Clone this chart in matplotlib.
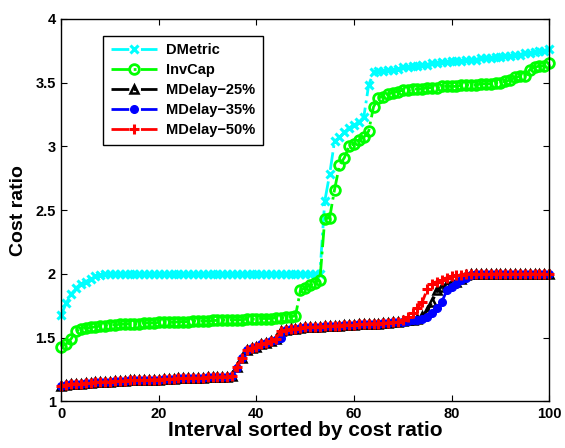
import matplotlib
matplotlib.use("Agg")
import matplotlib.pyplot as plt
import numpy as np

plt.rcParams['font.family'] = ['Liberation Sans', 'DejaVu Sans']
plt.rcParams['font.weight'] = 'bold'

intervals = list(range(0, 101))

dmetric = [
    1.68, 1.77, 1.84, 1.89, 1.92, 1.94, 1.96, 1.98, 1.99, 2.00,
    2.00, 2.00, 2.00, 2.00, 2.00, 2.00, 2.00, 2.00, 2.00, 2.00,
    2.00, 2.00, 2.00, 2.00, 2.00, 2.00, 2.00, 2.00, 2.00, 2.00,
    2.00, 2.00, 2.00, 2.00, 2.00, 2.00, 2.00, 2.00, 2.00, 2.00,
    2.00, 2.00, 2.00, 2.00, 2.00, 2.00, 2.00, 2.00, 2.00, 2.00,
    2.00, 2.00, 2.00, 2.00, 2.57, 2.78, 3.04, 3.07, 3.11, 3.14,
    3.17, 3.19, 3.23, 3.48, 3.58, 3.59, 3.59, 3.60, 3.60, 3.61,
    3.62, 3.62, 3.63, 3.63, 3.64, 3.64, 3.65, 3.65, 3.66, 3.66,
    3.67, 3.67, 3.67, 3.68, 3.68, 3.68, 3.69, 3.69, 3.69, 3.70,
    3.70, 3.71, 3.71, 3.72, 3.72, 3.73, 3.73, 3.74, 3.75, 3.75,
    3.76,
]

invcap = [
    1.43, 1.45, 1.49, 1.55, 1.57, 1.575, 1.58, 1.585, 1.59, 1.595,
    1.60, 1.60, 1.605, 1.605, 1.61, 1.61, 1.61, 1.615, 1.615, 1.615,
    1.62, 1.62, 1.62, 1.62, 1.625, 1.625, 1.625, 1.63, 1.63, 1.63,
    1.63, 1.635, 1.635, 1.635, 1.64, 1.64, 1.64, 1.64, 1.645, 1.645,
    1.645, 1.65, 1.65, 1.65, 1.655, 1.655, 1.66, 1.665, 1.67, 1.87,
    1.89, 1.91, 1.93, 1.95, 2.43, 2.44, 2.66, 2.85, 2.91, 3.00,
    3.02, 3.05, 3.07, 3.12, 3.31, 3.38, 3.39, 3.41, 3.42, 3.43,
    3.44, 3.44, 3.45, 3.45, 3.45, 3.46, 3.46, 3.46, 3.47, 3.47,
    3.47, 3.47, 3.48, 3.48, 3.48, 3.48, 3.49, 3.49, 3.49, 3.50,
    3.50, 3.51, 3.52, 3.54, 3.55, 3.55, 3.60, 3.62, 3.63, 3.63,
    3.65,
]

mdelay25 = [
    1.12, 1.13, 1.135, 1.14, 1.14, 1.145, 1.145, 1.15, 1.15, 1.155,
    1.155, 1.16, 1.16, 1.16, 1.165, 1.165, 1.165, 1.17, 1.17, 1.17,
    1.17, 1.175, 1.175, 1.175, 1.18, 1.18, 1.18, 1.185, 1.185, 1.185,
    1.19, 1.19, 1.19, 1.195, 1.195, 1.20, 1.27, 1.34, 1.40, 1.42,
    1.43, 1.45, 1.46, 1.47, 1.49, 1.55, 1.56, 1.565, 1.57, 1.575,
    1.58, 1.58, 1.585, 1.585, 1.59, 1.59, 1.595, 1.595, 1.60, 1.60,
    1.60, 1.605, 1.605, 1.61, 1.61, 1.61, 1.615, 1.615, 1.62, 1.62,
    1.63, 1.635, 1.64, 1.65, 1.67, 1.71, 1.78, 1.87, 1.90, 1.92,
    1.93, 1.94, 1.96, 1.99, 2.00, 2.00, 2.00, 2.00, 2.00, 2.00,
    2.00, 2.00, 2.00, 2.00, 2.00, 2.00, 2.00, 2.00, 2.00, 2.00,
    2.00,
]

mdelay35 = [
    1.12, 1.13, 1.135, 1.14, 1.14, 1.145, 1.145, 1.15, 1.15, 1.155,
    1.155, 1.16, 1.16, 1.16, 1.165, 1.165, 1.165, 1.17, 1.17, 1.17,
    1.17, 1.175, 1.175, 1.175, 1.18, 1.18, 1.18, 1.185, 1.185, 1.185,
    1.19, 1.19, 1.19, 1.195, 1.195, 1.20, 1.26, 1.34, 1.40, 1.42,
    1.43, 1.45, 1.46, 1.47, 1.48, 1.50, 1.56, 1.565, 1.57, 1.575,
    1.58, 1.58, 1.585, 1.585, 1.59, 1.59, 1.595, 1.595, 1.60, 1.60,
    1.60, 1.605, 1.605, 1.61, 1.61, 1.61, 1.615, 1.615, 1.62, 1.62,
    1.625, 1.63, 1.635, 1.64, 1.65, 1.66, 1.69, 1.73, 1.78, 1.87,
    1.90, 1.92, 1.95, 1.97, 1.99, 2.00, 2.00, 2.00, 2.00, 2.00,
    2.00, 2.00, 2.00, 2.00, 2.00, 2.00, 2.00, 2.00, 2.00, 2.00,
    2.00,
]

mdelay50 = [
    1.12, 1.13, 1.135, 1.14, 1.14, 1.145, 1.145, 1.15, 1.15, 1.155,
    1.155, 1.16, 1.16, 1.16, 1.165, 1.165, 1.165, 1.17, 1.17, 1.17,
    1.17, 1.175, 1.175, 1.175, 1.18, 1.18, 1.18, 1.185, 1.185, 1.185,
    1.19, 1.19, 1.19, 1.195, 1.195, 1.20, 1.27, 1.34, 1.40, 1.42,
    1.43, 1.45, 1.46, 1.47, 1.49, 1.55, 1.56, 1.565, 1.57, 1.575,
    1.58, 1.58, 1.585, 1.585, 1.59, 1.59, 1.595, 1.595, 1.60, 1.60,
    1.60, 1.605, 1.605, 1.61, 1.61, 1.61, 1.615, 1.615, 1.62, 1.62,
    1.64, 1.66, 1.69, 1.73, 1.78, 1.88, 1.92, 1.94, 1.95, 1.97,
    1.98, 1.99, 1.995, 2.00, 2.00, 2.00, 2.00, 2.00, 2.00, 2.00,
    2.00, 2.00, 2.00, 2.00, 2.00, 2.00, 2.00, 2.00, 2.00, 2.00,
    2.00,
]

series = [
    ("DMetric", dmetric, dict(color="#00ffff", marker="x", ms=5.5, mew=2.2, mfc="#00ffff")),
    ("InvCap", invcap, dict(color="#00ff00", marker="o", ms=7, mew=2.0, mfc="none")),
    ("MDelay\u221225%", mdelay25, dict(color="black", marker="^", ms=6, mew=1.8, mfc="none")),
    ("MDelay\u221235%", mdelay35, dict(color="#0000ff", marker="o", ms=5.5, mew=1.0, mfc="#0000ff")),
    ("MDelay\u221250%", mdelay50, dict(color="#ff0000", marker="+", ms=6.5, mew=2.2)),
]

fig = plt.figure(figsize=(5.65, 4.48), dpi=100)
ax = fig.add_axes([0.1085, 0.104, 0.8635, 0.854])

for name, vals, st in series:
    ax.plot(intervals, vals, linestyle="-.", linewidth=2.0, label=name,
            clip_on=False, **st)

ax.set_xlim(0, 100)
ax.set_ylim(1, 4)
ax.set_xticks([0, 20, 40, 60, 80, 100])
ax.set_yticks([1, 1.5, 2, 2.5, 3, 3.5, 4])
ax.set_yticklabels(["1", "1.5", "2", "2.5", "3", "3.5", "4"])
ax.tick_params(direction="in", top=True, right=True, length=4, width=0.8,
               labelsize=10.5, pad=4)
for lbl in ax.get_xticklabels() + ax.get_yticklabels():
    lbl.set_fontweight("bold")
for sp in ax.spines.values():
    sp.set_linewidth(1.0)

ax.set_xlabel("Interval sorted by cost ratio", fontsize=15, fontweight="bold", labelpad=0)
ax.set_ylabel("Cost ratio", fontsize=14, fontweight="bold", labelpad=6)

leg = ax.legend(loc="upper left", bbox_to_anchor=(0.086, 0.956), fancybox=False,
                framealpha=1, edgecolor="black", fontsize=10.5, handlelength=3.2,
                handletextpad=0.6, labelspacing=0.42, borderpad=0.5, borderaxespad=0)
leg.get_frame().set_linewidth(1.0)
for t in leg.get_texts():
    t.set_fontweight("bold")

fig.savefig("out.png", dpi=100)
